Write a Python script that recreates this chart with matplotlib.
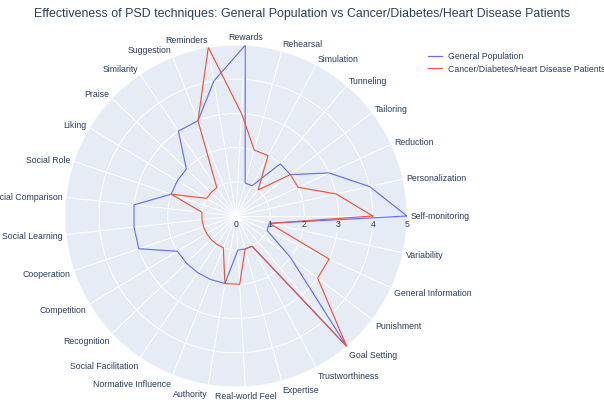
import numpy as np
import matplotlib.pyplot as plt

plt.rcParams['font.family'] = ['Liberation Sans', 'DejaVu Sans']

categories = ['Self-monitoring', 'Personalization', 'Reduction', 'Tailoring', 'Tunneling',
              'Simulation', 'Rehearsal', 'Rewards', 'Reminders', 'Suggestion', 'Similarity',
              'Praise', 'Liking', 'Social Role', 'Social Comparison', 'Social Learning',
              'Cooperation', 'Competition', 'Recognition', 'Social Facilitation',
              'Normative Influence', 'Authority', 'Real-world Feel', 'Expertise',
              'Trustworthiness', 'Goal Setting', 'Punishment', 'General Information', 'Variability']
general = [5, 4, 3, 2, 2, 1, 1, 5, 4, 3, 3, 2, 2, 2, 3, 3, 3, 2, 2, 2, 2, 2, 1, 1, 1, 5, 2, 1, 1]
patients = [4, 3, 2, 2, 1, 2, 2, 3, 5, 3, 1, 1, 1, 2, 1, 1, 1, 1, 1, 1, 1, 2, 2, 1, 1, 5, 3, 3, 1]
series_names = ['General Population', 'Cancer/Diabetes/Heart Disease Patients']
radial_ticks = [0, 1, 2, 3, 4, 5]
title = 'Effectiveness of PSD techniques: General Population vs Cancer/Diabetes/Heart Disease Patients'

txt = '#2a3f5f'
fs = 6.3  # pt
fs_px = fs / 0.72

fig = plt.figure(figsize=(6.04, 4.04), dpi=100)
ax = fig.add_axes([0.1076, 0.0421, 0.5662, 0.8465], projection='polar')
ax.set_facecolor('#E5ECF6')
ax.spines['polar'].set_visible(False)

n = len(categories)
theta = np.arange(n) * 2 * np.pi / n
ax.set_ylim(0, 5)
ax.set_xticks(theta)
ax.set_xticklabels([])
ax.set_yticks([1, 2, 3, 4, 5])
ax.set_yticklabels([])
ax.grid(True, color='white', lw=0.75)
ax.tick_params(length=0)

th_c = np.append(theta, theta[0])
l1, = ax.plot(th_c, general + general[:1], color='#636EFA', lw=0.85, label=series_names[0], zorder=3)
l2, = ax.plot(th_c, patients + patients[:1], color='#EF553B', lw=0.85, label=series_names[1], zorder=3)

# angular labels, placed like plotly does
pad = 3.5
for t, lab in zip(theta, categories):
    c, s = np.cos(t), np.sin(t)
    ha = 'center' if abs(c) < 0.1 else ('left' if c > 0 else 'right')
    ff = 0.2 if s > 0 else 1.0
    dx = c * pad
    dy = s * (pad + fs_px * ff) - abs(c) * fs_px * 0.35
    ax.annotate(lab, xy=(t, 5), xytext=(dx, dy), textcoords='offset pixels',
                ha=ha, va='baseline', fontsize=fs, color=txt, annotation_clip=False)

for r in radial_ticks:
    ax.annotate(str(r), xy=(0, r), xytext=(0, -9), textcoords='offset pixels',
                ha='center', va='center', fontsize=fs, color=txt, zorder=4)

fig.text(0.5, 1 - 14 / 404, title, ha='center', va='center', fontsize=8.9, color=txt)

fig.legend(handles=[l1, l2], loc='upper left', bbox_to_anchor=(428 / 604, 1 - 52 / 404),
           frameon=False, fontsize=fs, handlelength=1.6, handletextpad=0.7,
           labelspacing=0.4, borderpad=0, borderaxespad=0, labelcolor=txt)

fig.savefig('out.png', dpi=100)
